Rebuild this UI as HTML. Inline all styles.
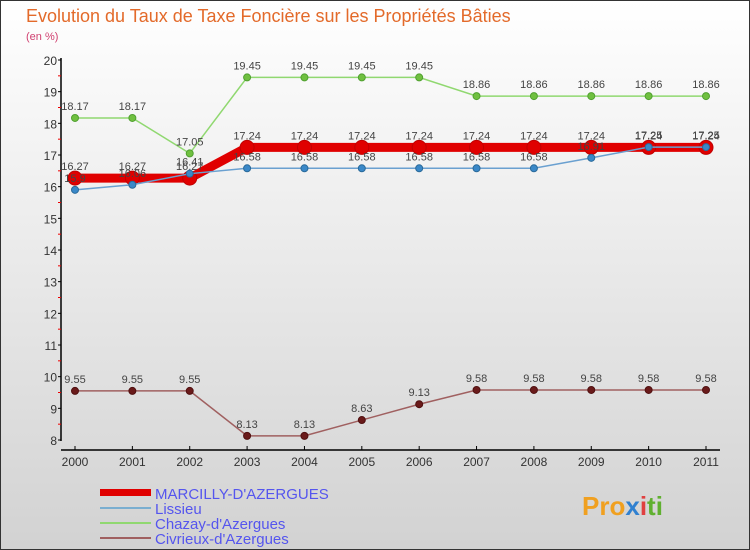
<!DOCTYPE html>
<html><head><meta charset="utf-8"><style>
body{margin:0;width:750px;height:550px;overflow:hidden;font-family:"Liberation Sans",sans-serif}
#wrap{position:absolute;left:0;top:0;width:748px;height:548px;border:1px solid #333;background:linear-gradient(#ffffff,#d2d2d2)}
</style></head><body>
<div id="wrap">
<svg width="750" height="550" id="chart" style="position:absolute;left:-1px;top:-1px">
<text x="26" y="22" font-size="18" fill="#e36a2a">Evolution du Taux de Taxe Foncière sur les Propriétés Bâties</text>
<text x="26" y="40" font-size="11" fill="#d04070">(en %)</text>
<g id="axes"></g><g id="series"></g>
<g>
<rect x="100" y="489" width="51" height="7" fill="#e00000"/>
<text x="155" y="499" font-size="15" fill="#5555ee">MARCILLY-D'AZERGUES</text>
<rect x="100" y="507" width="51" height="2" fill="#7aaed0"/>
<text x="155" y="514" font-size="15" fill="#5555ee">Lissieu</text>
<rect x="100" y="522" width="51" height="2" fill="#90d870"/>
<text x="155" y="529" font-size="15" fill="#5555ee">Chazay-d'Azergues</text>
<rect x="100" y="537" width="51" height="2" fill="#a06060"/>
<text x="155" y="544" font-size="15" fill="#5555ee">Civrieux-d'Azergues</text>
</g>
<text x="582" y="515" font-size="26" font-weight="bold" fill="#f0a020">Pro<tspan fill="#3080d0">x</tspan><tspan fill="#e04040">i</tspan><tspan fill="#60b030">ti</tspan></text>
</svg>
</div>
<script>
const years=[2000,2001,2002,2003,2004,2005,2006,2007,2008,2009,2010,2011];
const yTicks=[8,9,10,11,12,13,14,15,16,17,18,19,20];
const marcilly=[16.27,16.27,16.27,17.24,17.24,17.24,17.24,17.24,17.24,17.24,17.24,17.24];
const lissieu=[15.9,16.06,16.41,16.58,16.58,16.58,16.58,16.58,16.58,16.91,17.25,17.25];
const chazay=[18.17,18.17,17.05,19.45,19.45,19.45,19.45,18.86,18.86,18.86,18.86,18.86];
const civrieux=[9.55,9.55,9.55,8.13,8.13,8.63,9.13,9.58,9.58,9.58,9.58,9.58];
const NS="http://www.w3.org/2000/svg";
const X=i=>75+i*(706-75)/(years.length-1);
const Y=v=>440-(v-8)*(380/12);
function mk(tag,attrs,parent){const e=document.createElementNS(NS,tag);for(const k in attrs)e.setAttribute(k,attrs[k]);parent.appendChild(e);return e;}
const ax=document.getElementById('axes');
const yl=mk('line',{x1:61,y1:58,x2:61,y2:441,stroke:'#000','stroke-width':1.5},ax);


const xl=mk('line',{x1:61,y1:450,x2:720,y2:450,stroke:'#000','stroke-width':1.5},ax);


yTicks.forEach(t=>{
 mk('line',{x1:58,y1:Y(t),x2:61,y2:Y(t),stroke:'#000'},ax);
 if(t<20) mk('line',{x1:58,y1:Y(t+0.5),x2:61,y2:Y(t+0.5),stroke:'#e00'},ax);
 const tx=mk('text',{x:57,y:Y(t)+5,'font-size':12,fill:'#333','text-anchor':'end'},ax);
 tx.textContent=t;
 
 
});
years.forEach((yr,i)=>{
 mk('line',{x1:X(i),y1:450,x2:X(i),y2:446,stroke:'#000'},ax);
 const tx=mk('text',{x:X(i),y:466,'font-size':12,fill:'#333','text-anchor':'middle'},ax);
 tx.textContent=yr;
 
 
});
const sg=document.getElementById('series');
function series(vals,name,color,w,r,dot,dotStroke){
 const g=mk('g',{},sg);
 
 
 const p=mk('polyline',{points:vals.map((v,i)=>X(i)+','+Y(v)).join(' '),fill:'none',stroke:color,'stroke-width':w},g);
 
 
 vals.forEach((v,i)=>{
  const c=mk('circle',{cx:X(i),cy:Y(v),r:r,fill:dot,stroke:dotStroke,'stroke-width':1},g);
  
  
  const t=mk('text',{x:X(i),y:Y(v)-8,'font-size':11,fill:'#444','text-anchor':'middle'},g);
  t.textContent=v;
  
  
 });
}
series(chazay,'chazay','#90d870',1.5,3.5,'#70c040','#50a030');
series(civrieux,'civrieux','#a06060',1.5,3.5,'#6a1a1a','#501010');
series(marcilly,'marcilly','#e00000',9,7,'#e00000','#c00000');
series(lissieu,'lissieu','#6aa0d0',1.5,3.5,'#3a88c8','#2a6a9a');
</script>
</body></html>
